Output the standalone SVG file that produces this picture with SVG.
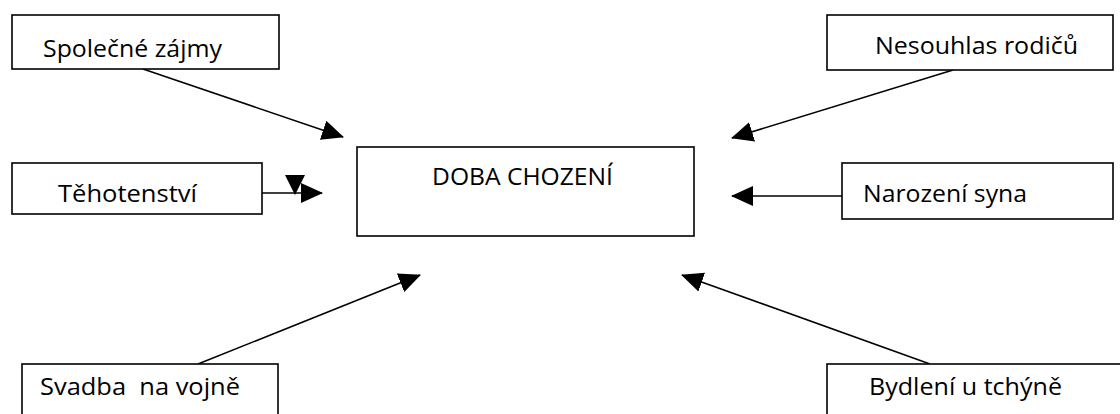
<svg xmlns="http://www.w3.org/2000/svg" width="1120" height="414" viewBox="0 0 1120 414">
<defs>
<style>
.box{fill:#fff;stroke:#000;stroke-width:1.6}
.lbl{font-family:"Open Sans","Noto Sans","Liberation Sans",sans-serif;font-size:23.5px;fill:#000;white-space:pre}
.con{stroke:#000;stroke-width:1.6;fill:none}
.head{fill:#000}
</style>
<marker id="ah" markerUnits="userSpaceOnUse" markerWidth="22" markerHeight="20" refX="21" refY="10" orient="auto" viewBox="0 0 22 20">
<path d="M0,0 L22,10 L0,20 z" fill="#000"/>
</marker>
</defs>
<rect width="1120" height="414" fill="#fff"/>
<g id="connectors">
<line class="con" x1="143" y1="69" x2="343" y2="137" marker-end="url(#ah)"/>
<line class="con" x1="953" y1="70" x2="732" y2="138" marker-end="url(#ah)"/>
<line class="con" x1="262" y1="193" x2="322" y2="193" marker-end="url(#ah)"/>
<polygon class="head" points="285,175 305,175 295,195"/>
<line class="con" x1="842" y1="196" x2="732" y2="196" marker-end="url(#ah)"/>
<line class="con" x1="198" y1="364" x2="420" y2="275" marker-end="url(#ah)"/>
<line class="con" x1="930" y1="364" x2="682" y2="275" marker-end="url(#ah)"/>
</g>
<g id="center">
<rect class="box" x="357" y="147" width="337" height="89"/>
<text class="lbl" x="432" y="185" textLength="181" lengthAdjust="spacingAndGlyphs">DOBA CHOZENÍ</text>
</g>
<g id="spolecne">
<rect class="box" x="12" y="15" width="267" height="54"/>
<text class="lbl" x="43" y="57" textLength="179" lengthAdjust="spacingAndGlyphs">Společné zájmy</text>
</g>
<g id="nesouhlas">
<rect class="box" x="827" y="15" width="286" height="55"/>
<text class="lbl" x="875" y="54" textLength="203" lengthAdjust="spacingAndGlyphs">Nesouhlas rodičů</text>
</g>
<g id="tehotenstvi">
<rect class="box" x="12" y="163" width="250" height="51"/>
<text class="lbl" x="58" y="202" textLength="139" lengthAdjust="spacingAndGlyphs">Těhotenství</text>
</g>
<g id="narozeni">
<rect class="box" x="842" y="163" width="271" height="56"/>
<text class="lbl" x="863" y="202" textLength="164" lengthAdjust="spacingAndGlyphs">Narození syna</text>
</g>
<g id="svadba">
<rect class="box" x="22" y="364" width="256" height="60"/>
<text class="lbl" x="40" y="395" textLength="200" lengthAdjust="spacingAndGlyphs">Svadba  na vojně</text>
</g>
<g id="bydleni">
<rect class="box" x="827" y="364" width="300" height="60"/>
<text class="lbl" x="869" y="395" textLength="193" lengthAdjust="spacingAndGlyphs">Bydlení u tchýně</text>
</g>
</svg>
